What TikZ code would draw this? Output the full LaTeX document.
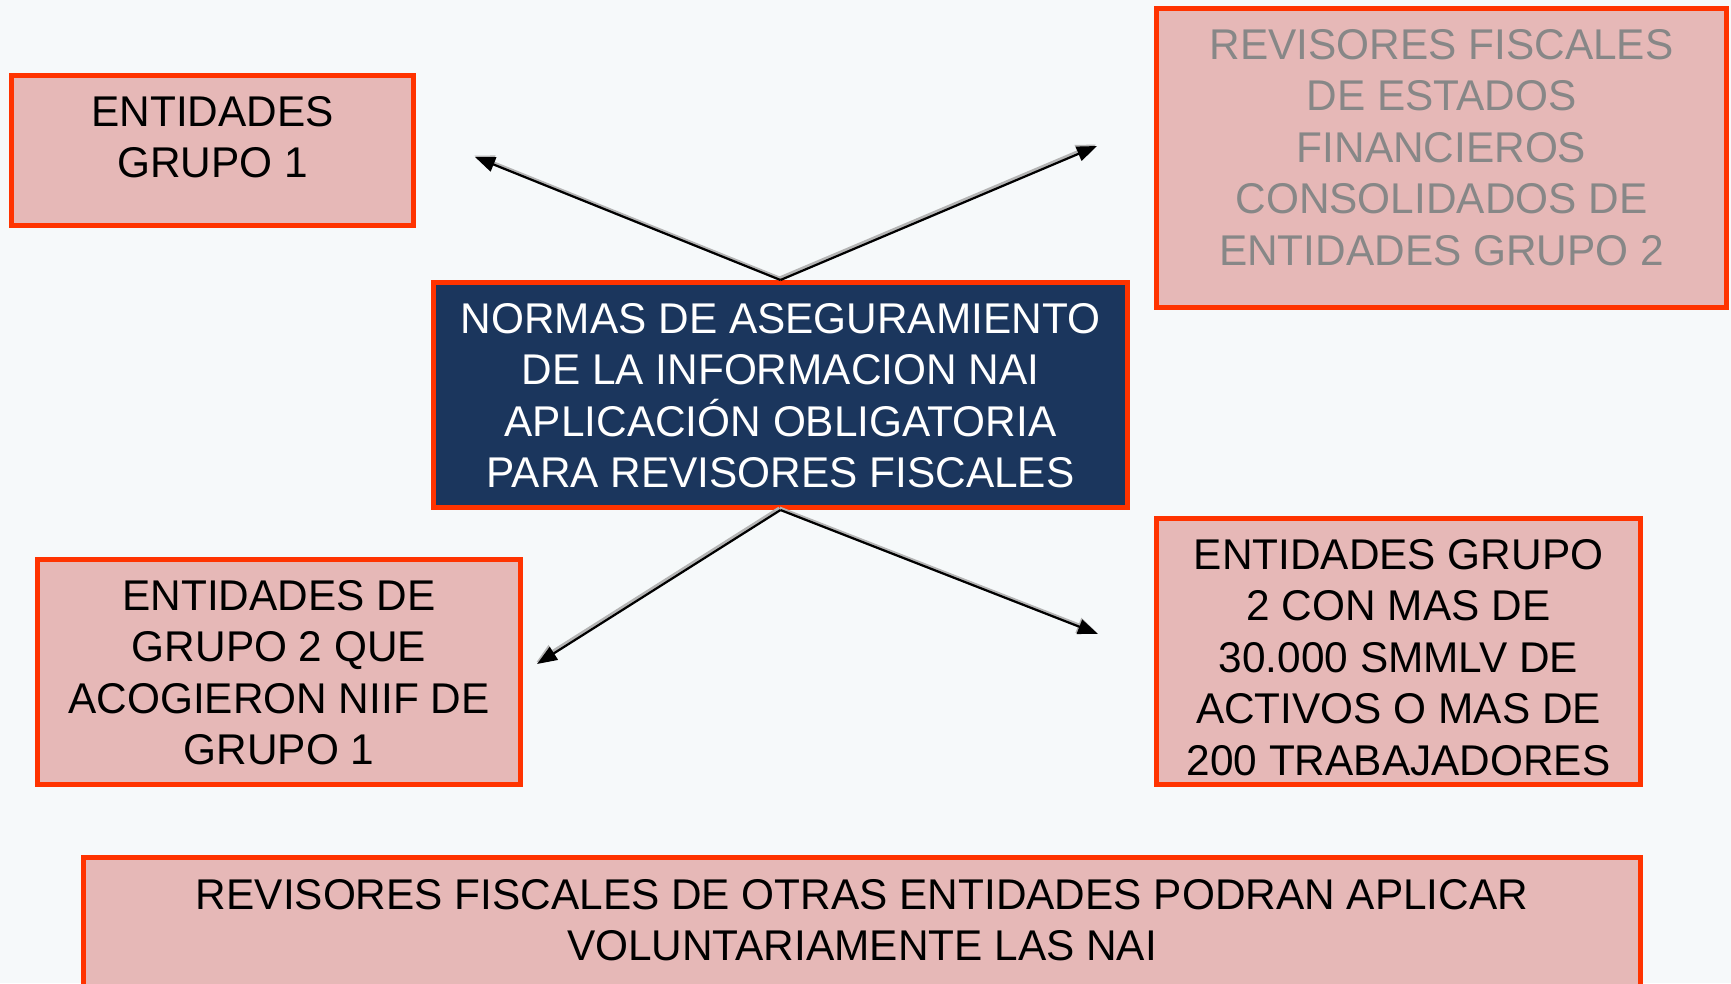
\documentclass[tikz,border=0pt]{standalone}
\usepackage{fontspec}
\setmainfont{Liberation Sans}[FakeStretch=0.985]
\usetikzlibrary{arrows.meta}
\definecolor{bgc}{HTML}{F6F9FA}
\definecolor{pinkfill}{HTML}{E6B8B7}
\definecolor{redline}{HTML}{FF3300}
\definecolor{navy}{HTML}{1B365D}
\definecolor{graytext}{HTML}{878787}
\definecolor{shadowc}{HTML}{B4B4B4}
\tikzset{
  box/.style={draw=redline, line width=5pt, fill=pinkfill, rectangle, inner sep=0pt},
  centerbox/.style={box, fill=navy},
  label/.style={inner sep=0pt, align=center, anchor=north, font=\fontsize{43}{51.5}\selectfont},
  conn/.style={draw=black, line width=2.2pt, -{Triangle[length=20pt,width=15pt]}},
  connshadow/.style={draw=shadowc, line width=4pt, -{Triangle[length=20pt,width=15pt]}},
}
\begin{document}
\begin{tikzpicture}[x=1pt,y=-1pt]
\clip (0,0) rectangle (1731,983);
\fill[bgc] (0,0) rectangle (1731,983);
% boxes
\node[box, minimum width=402pt, minimum height=150pt] (g1) at (212.5,150.5) {};
\node[box, minimum width=570pt, minimum height=299pt] (rf) at (1441.5,158) {};
\node[centerbox, minimum width=694pt, minimum height=225pt] (c) at (780.5,395) {};
\node[box, minimum width=483pt, minimum height=225pt] (ll) at (279,672) {};
\node[box, minimum width=484pt, minimum height=266pt] (lr) at (1398.5,651.5) {};
\node[box, minimum width=1557pt, minimum height=160pt] (bt) at (862,937) {};
% texts
\node[label] (tg1) at (212.5,96) {ENTIDADES\\GRUPO 1};
\node[label, text=graytext] (trf) at (1441.5,29) {REVISORES FISCALES\\DE ESTADOS\\FINANCIEROS\\CONSOLIDADOS DE\\ENTIDADES GRUPO 2};
\node[label, text=white] (tc) at (780.5,303) {NORMAS DE ASEGURAMIENTO\\DE LA INFORMACION NAI\\APLICACIÓN OBLIGATORIA\\PARA REVISORES FISCALES};
\node[label] (tll) at (279,580) {ENTIDADES DE\\GRUPO 2 QUE\\ACOGIERON NIIF DE\\GRUPO 1};
\node[label] (tlr) at (1398.5,539) {ENTIDADES GRUPO\\2 CON MAS DE\\30.000 SMMLV DE\\ACTIVOS O MAS DE\\200 TRABAJADORES};
\node[label] (tbt) at (862,879) {REVISORES FISCALES DE OTRAS ENTIDADES PODRAN APLICAR\\VOLUNTARIAMENTE LAS NAI};
% arrow ends
\coordinate (aUL) at (475,157);
\coordinate (aUR) at (1097,146);
\coordinate (aLL) at (537,664);
\coordinate (aLR) at (1098,634);
% shadows
\begin{scope}[transform canvas={shift={(-1pt,1.5pt)}}]
\draw[connshadow] (c.north) -- (aUL);
\draw[connshadow] (c.north) -- (aUR);
\draw[connshadow] (c.south) -- (aLL);
\draw[connshadow] (c.south) -- (aLR);
\end{scope}
% connectors
\draw[conn] (c.north) -- (aUL);
\draw[conn] (c.north) -- (aUR);
\draw[conn] (c.south) -- (aLL);
\draw[conn] (c.south) -- (aLR);
\end{tikzpicture}
\end{document}
